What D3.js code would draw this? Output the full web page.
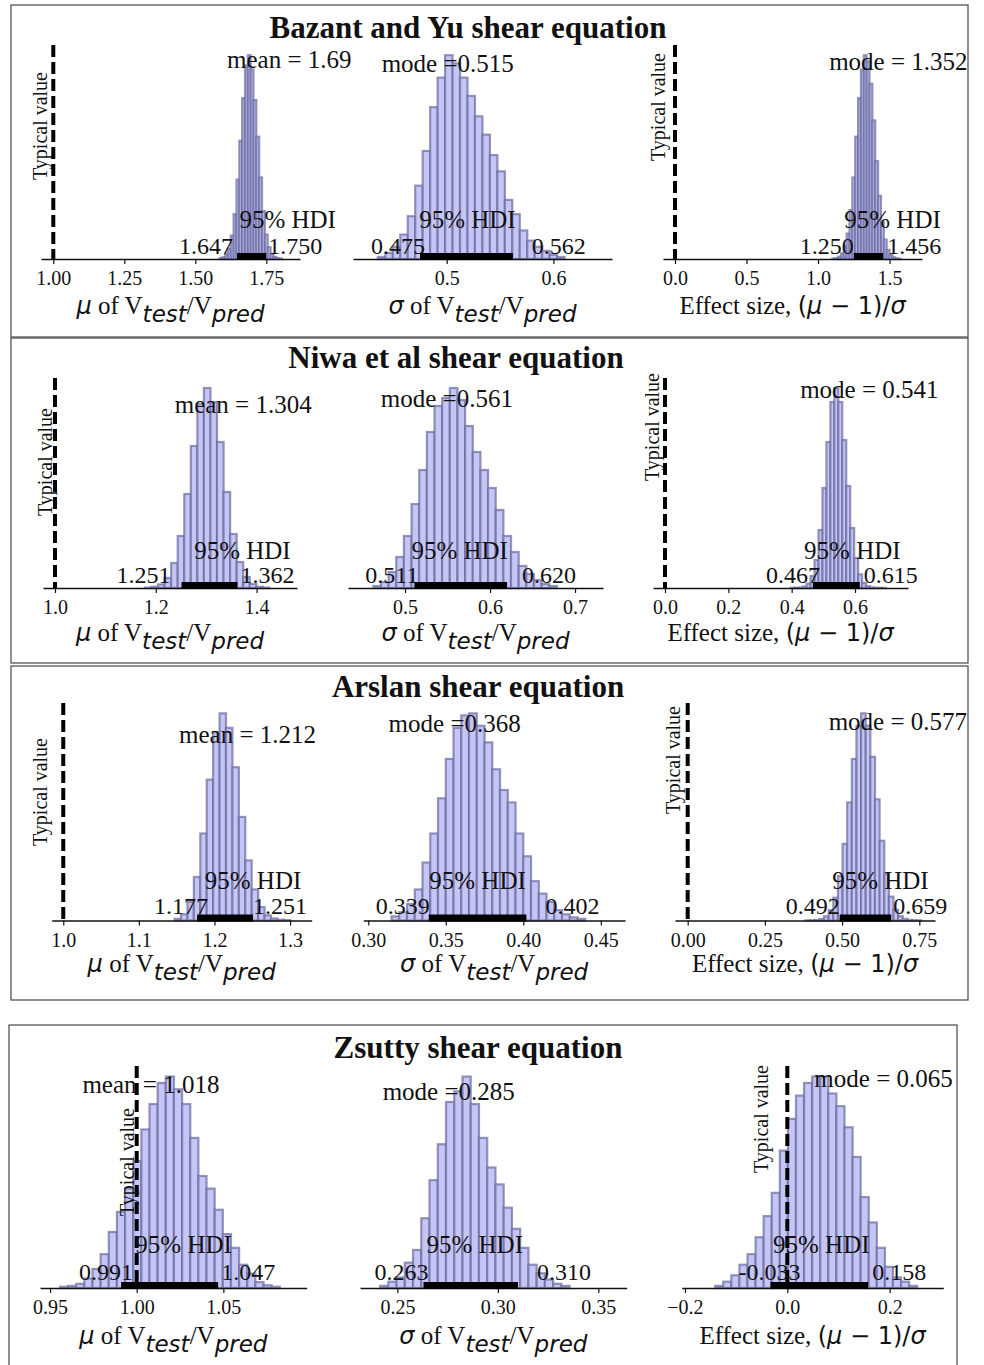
<!DOCTYPE html>
<html>
<head>
<meta charset="utf-8">
<script src="https://cdn.jsdelivr.net/npm/d3@7"></script>
<style>
  body { margin: 0; background: #fff; }
  svg text { font-family: "Liberation Serif", "Times New Roman", serif; fill: #111; }
</style>
</head>
<body>
<div id="chart"></div>
<script>
// ---------- data ----------
var titles = ["Bazant and Yu shear equation", "Niwa et al shear equation",
  "Arslan shear equation", "Zsutty shear equation"];

// relative bar heights (tallest bar = 1), bins of fixed width starting at binStart
var muHeights = [
  [0.004,0.009,0.024,0.05,0.115,0.22,0.39,0.58,0.79,0.95,1.0,0.93,0.78,0.60,0.40,0.235,0.12,0.058,0.025,0.01,0.004,0.002],
  [0.002,0.006,0.018,0.05,0.125,0.26,0.47,0.71,0.92,1.0,0.93,0.73,0.48,0.27,0.13,0.055,0.02,0.006,0.002],
  [0.008,0.03,0.09,0.21,0.42,0.68,0.91,1.0,0.93,0.74,0.50,0.29,0.15,0.065,0.025,0.01,0.004,0.002],
  [0.006,0.01,0.02,0.045,0.09,0.16,0.265,0.36,0.47,0.60,0.75,0.87,0.97,1.0,0.94,0.87,0.71,0.53,0.47,0.37,0.255,0.19,0.11,0.068,0.028,0.013,0.006]
];
var muBinStart = [1.585, 1.1785, 1.14725, 0.9557];
var muBinWidth = [0.01, 0.013, 0.0085, 0.0047];

var sigmaHeights = [
  [0.01,0.03,0.06,0.12,0.21,0.36,0.53,0.745,0.89,1.0,0.96,0.89,0.80,0.70,0.61,0.51,0.43,0.29,0.22,0.14,0.09,0.06,0.04,0.02,0.01],
  [0.01,0.03,0.08,0.155,0.26,0.42,0.59,0.78,0.91,0.95,1.0,0.94,0.81,0.68,0.59,0.50,0.39,0.26,0.18,0.11,0.07,0.04,0.02,0.01],
  [0.02,0.04,0.08,0.15,0.28,0.42,0.59,0.78,0.93,0.99,1.0,0.94,0.86,0.73,0.63,0.57,0.42,0.31,0.19,0.13,0.09,0.05,0.03,0.015,0.008],
  [0.01,0.03,0.05,0.12,0.18,0.33,0.51,0.68,0.88,0.93,1.0,0.87,0.71,0.57,0.49,0.38,0.28,0.19,0.11,0.07,0.04,0.02,0.01]
];
var sigmaBinStart = [0.4355, 0.4627, 0.315, 0.2414];
var sigmaBinWidth = [0.007, 0.009, 0.005, 0.0041];

var effectHeights = [
  [0.002,0.004,0.011,0.028,0.062,0.125,0.24,0.40,0.60,0.79,0.93,1.0,0.97,0.86,0.68,0.48,0.31,0.18,0.095,0.045,0.02,0.008,0.003,0.001],
  [0.001,0.001,0.002,0.007,0.022,0.06,0.14,0.29,0.50,0.73,0.93,1.0,0.93,0.74,0.51,0.30,0.15,0.068,0.026,0.009,0.003,0.001,0.001,0.0005],
  [0.001,0.001,0.0025,0.007,0.02,0.05,0.11,0.215,0.37,0.57,0.78,0.94,1.0,0.94,0.79,0.585,0.385,0.225,0.115,0.052,0.021,0.008,0.003,0.001,0.001],
  [0.01,0.03,0.06,0.11,0.16,0.24,0.34,0.45,0.65,0.80,0.91,0.97,1.0,1.0,0.92,0.86,0.76,0.62,0.43,0.31,0.19,0.10,0.05,0.03,0.01]
];
var effectBinStart = [1.10, 0.39725, 0.3815, -0.141];
var effectBinWidth = [0.02, 0.0125, 0.015, 0.0158];

var muMean = [1.69, 1.304, 1.212, 1.018];
var sigmaMode = [0.515, 0.561, 0.368, 0.285];
var effectMode = [1.352, 0.541, 0.577, 0.065];

var muHDI = [[1.647, 1.750], [1.251, 1.362], [1.177, 1.251], [0.991, 1.047]];
var sigmaHDI = [[0.475, 0.562], [0.511, 0.620], [0.339, 0.402], [0.263, 0.310]];
var effectHDI = [[1.250, 1.456], [0.467, 0.615], [0.492, 0.659], [-0.033, 0.158]];

var muTicks = [[1.00, 1.25, 1.50, 1.75], [1.0, 1.2, 1.4], [1.0, 1.1, 1.2, 1.3], [0.95, 1.00, 1.05]];
var sigmaTicks = [[0.5, 0.6], [0.5, 0.6, 0.7], [0.30, 0.35, 0.40, 0.45], [0.25, 0.30, 0.35]];
var effectTicks = [[0.0, 0.5, 1.0, 1.5], [0.0, 0.2, 0.4, 0.6], [0.00, 0.25, 0.50, 0.75], [-0.2, 0.0, 0.2]];
var muTickFmt = [".2f", ".1f", ".1f", ".2f"];
var sigmaTickFmt = [".1f", ".1f", ".2f", ".2f"];
var effectTickFmt = [".1f", ".1f", ".2f", ".1f"];

// comparison ("Typical value") for mu and effect size
var muTypical = 1;
var effectTypical = 0;

// ---------- layout ----------
var frames = [[11, 5, 968, 337], [11, 338, 968, 663], [11, 666, 968, 1000], [9, 1025, 957, 1380]];
var titleX = [468, 456, 478, 478];
var titleY = [38, 368, 697, 1058];
var axisY = [259, 588, 920.5, 1288];
var plotTop = [45, 378, 703, 1066];
var axisLabelY = [314, 641, 972, 1344];
var hdiTextY = [228, 559, 889, 1253];
var hdiValueY = [254, 583, 914, 1280];

var muRange = [[41, 300], [43, 297], [51.7, 311.7], [40, 306.7]];
var muDomain = [[0.9567, 1.8687], [0.9762, 1.4802], [0.9847, 1.3286], [0.9442, 1.0981]];
var sigmaRange = [[353, 612], [348, 603], [363.3, 625], [360, 626.7]];
var sigmaDomain = [[0.4122, 0.6549], [0.4329, 0.7329], [0.2968, 0.4656], [0.2314, 0.3641]];
var effectRange = [[663, 922], [653, 908], [675, 935], [681.7, 943.3]];
var effectDomain = [[-0.0839, 1.727], [-0.0379, 0.7673], [-0.0411, 0.8008], [-0.2064, 0.3049]];

// annotation nudges (px) as placed in the original figure
var muLabelDx = [40, 35, 24, -17], muLabelY = [68, 413, 743, 1093];
var sigmaLabelDx = [-15, -10, -19, -19], sigmaLabelY = [72, 407, 732, 1100];
var effectLabelDx = [30, 33, 32, 63], effectLabelY = [70, 398, 730, 1087];
var muHdiDx = [36, 33, 28, 14], sigmaHdiDx = [1, -1, 0, 4], effectHdiDx = [24, 16, 15, 2];
var muLoDx = [-4, -11, 11, 12], sigmaLoDx = [5, 4, 1, 5], effectLoDx = [0, 7, 0, 30];
var muHiDx = [2, 3, 0, 3], sigmaHiDx = [19, 15, 19, 19], effectHiDx = [4, 4, 2, 4];
var muTypDx = [-6, -3, -16, -3], muTypY = [126, 462, 792, 1162];
var effectTypDx = [-10, -6, -8, -19], effectTypY = [107, 427, 760, 1119];

var barFill = "#c6c6f6", barEdge = "#6a6a9e";
var mathFont = "DejaVu Sans, sans-serif";

var svg = d3.select("#chart")
  .append("svg")
  .attr("width", 984)
  .attr("height", 1365)
  .style("background", "#fff");

function ratioLabel(t, sym) {
  t.append("tspan").attr("font-family", mathFont).attr("font-style", "italic").attr("font-size", 24).text(sym);
  t.append("tspan").text(" of V");
  t.append("tspan").attr("font-family", mathFont).attr("font-style", "italic").attr("font-size", 23).attr("dy", 8).text("test");
  t.append("tspan").attr("dy", -8).text("/V");
  t.append("tspan").attr("font-family", mathFont).attr("font-style", "italic").attr("font-size", 23).attr("dy", 8).text("pred");
}

function effectLabel(t) {
  t.append("tspan").text("Effect size, ");
  t.append("tspan").attr("font-family", mathFont).attr("font-size", 24).text("(");
  t.append("tspan").attr("font-family", mathFont).attr("font-style", "italic").attr("font-size", 24).text("μ");
  t.append("tspan").attr("font-family", mathFont).attr("font-size", 24).text(" \u2212 1)/");
  t.append("tspan").attr("font-family", mathFont).attr("font-style", "italic").attr("font-size", 24).text("σ");
}

function drawSubplot(s) {
  var g = svg.append("g");
  var x = d3.scaleLinear().domain(s.domain).range(s.range);
  var y = d3.scaleLinear().domain([0, 1.05]).range([s.axisY, s.top]);

  var bins = s.heights.map(function(h, i) {
    return { x0: s.binStart + i * s.binWidth, x1: s.binStart + (i + 1) * s.binWidth, h: h };
  });

  g.selectAll(".bar")
    .data(bins)
    .enter().append("rect")
    .attr("class", "bar")
    .attr("x", function(d) { return x(d.x0) })
    .attr("width", function(d) { return x(d.x1) - x(d.x0) })
    .attr("y", function(d) { return y(d.h) })
    .attr("height", function(d) { return s.axisY - y(d.h) })
    .attr("fill", barFill)
    .attr("stroke", barEdge)
    .attr("stroke-opacity", 0.7)
    .attr("stroke-width", 2.2)

  // x axis
  var axis = d3.axisBottom(x)
    .tickValues(s.ticks)
    .tickFormat(d3.format(s.fmt))
    .tickSize(5)
    .tickSizeOuter(0)
    .tickPadding(7);
  var ag = g.append("g")
    .attr("transform", "translate(0," + s.axisY + ")")
    .call(axis);
  ag.attr("font-size", 20).attr("font-family", "Liberation Serif, serif");
  ag.select(".domain").attr("stroke", "#111").attr("stroke-width", 1.3);
  ag.selectAll(".tick line").attr("stroke", "#111").attr("stroke-width", 1.2);
  ag.selectAll(".tick text").attr("fill", "#222");

  // comparison value
  if (s.typical !== null) {
    g.append("line")
      .attr("x1", x(s.typical)).attr("x2", x(s.typical))
      .attr("y1", s.top).attr("y2", s.axisY)
      .attr("stroke", "#000")
      .attr("stroke-width", 4)
      .attr("stroke-dasharray", "12,5");
    g.append("text")
      .attr("transform", "translate(" + (x(s.typical) + s.typDx) + "," + s.typY + ") rotate(-90)")
      .attr("text-anchor", "middle")
      .attr("font-size", 20)
      .text("Typical value");
  }

  // HDI bar
  g.append("line")
    .attr("x1", x(s.hdi[0])).attr("x2", x(s.hdi[1]))
    .attr("y1", s.axisY - 2.5).attr("y2", s.axisY - 2.5)
    .attr("stroke", "#000")
    .attr("stroke-width", 7);

  g.append("text")
    .attr("x", x((s.hdi[0] + s.hdi[1]) / 2) + s.hdiDx)
    .attr("y", s.hdiTextY)
    .attr("text-anchor", "middle")
    .attr("font-size", 25)
    .text("95% HDI");
  g.append("text")
    .attr("x", x(s.hdi[0]) + s.loDx)
    .attr("y", s.hdiValueY)
    .attr("text-anchor", "end")
    .attr("font-size", 24)
    .text(s.hdi[0].toFixed(3));
  g.append("text")
    .attr("x", x(s.hdi[1]) + s.hiDx)
    .attr("y", s.hdiValueY)
    .attr("text-anchor", "start")
    .attr("font-size", 24)
    .text(s.hdi[1].toFixed(3));

  g.append("text")
    .attr("x", x(s.center) + s.labelDx)
    .attr("y", s.labelY)
    .attr("text-anchor", "middle")
    .attr("font-size", 25)
    .text(s.centerText);

  var lab = g.append("text")
    .attr("x", (s.range[0] + s.range[1]) / 2)
    .attr("y", s.axisLabelY)
    .attr("text-anchor", "middle")
    .attr("font-size", 25);
  if (s.kind === "effect") effectLabel(lab);
  else ratioLabel(lab, s.kind === "mu" ? "μ" : "σ");
}

titles.forEach(function(title, p) {
  var f = frames[p];
  svg.append("rect")
    .attr("x", f[0]).attr("y", f[1])
    .attr("width", f[2] - f[0]).attr("height", f[3] - f[1])
    .attr("fill", "none")
    .attr("stroke", "#555")
    .attr("stroke-width", 1.3);

  svg.append("text")
    .attr("x", titleX[p]).attr("y", titleY[p])
    .attr("text-anchor", "middle")
    .attr("font-size", 31)
    .attr("font-weight", "bold")
    .text(title);

  var common = { axisY: axisY[p], top: plotTop[p], axisLabelY: axisLabelY[p],
    hdiTextY: hdiTextY[p], hdiValueY: hdiValueY[p] };

  drawSubplot(Object.assign({}, common, {
    kind: "mu", heights: muHeights[p], binStart: muBinStart[p], binWidth: muBinWidth[p],
    domain: muDomain[p], range: muRange[p], ticks: muTicks[p], fmt: muTickFmt[p],
    hdi: muHDI[p], center: muMean[p], centerText: "mean = " + muMean[p],
    typical: muTypical, typDx: muTypDx[p], typY: muTypY[p],
    labelDx: muLabelDx[p], labelY: muLabelY[p], hdiDx: muHdiDx[p], loDx: muLoDx[p], hiDx: muHiDx[p]
  }));
  drawSubplot(Object.assign({}, common, {
    kind: "sigma", heights: sigmaHeights[p], binStart: sigmaBinStart[p], binWidth: sigmaBinWidth[p],
    domain: sigmaDomain[p], range: sigmaRange[p], ticks: sigmaTicks[p], fmt: sigmaTickFmt[p],
    hdi: sigmaHDI[p], center: sigmaMode[p], centerText: "mode =" + sigmaMode[p].toFixed(3),
    typical: null,
    labelDx: sigmaLabelDx[p], labelY: sigmaLabelY[p], hdiDx: sigmaHdiDx[p], loDx: sigmaLoDx[p], hiDx: sigmaHiDx[p]
  }));
  drawSubplot(Object.assign({}, common, {
    kind: "effect", heights: effectHeights[p], binStart: effectBinStart[p], binWidth: effectBinWidth[p],
    domain: effectDomain[p], range: effectRange[p], ticks: effectTicks[p], fmt: effectTickFmt[p],
    hdi: effectHDI[p], center: effectMode[p], centerText: "mode = " + effectMode[p].toFixed(3),
    typical: effectTypical, typDx: effectTypDx[p], typY: effectTypY[p],
    labelDx: effectLabelDx[p], labelY: effectLabelY[p], hdiDx: effectHdiDx[p], loDx: effectLoDx[p], hiDx: effectHiDx[p]
  }));
});
</script>
</body>
</html>
